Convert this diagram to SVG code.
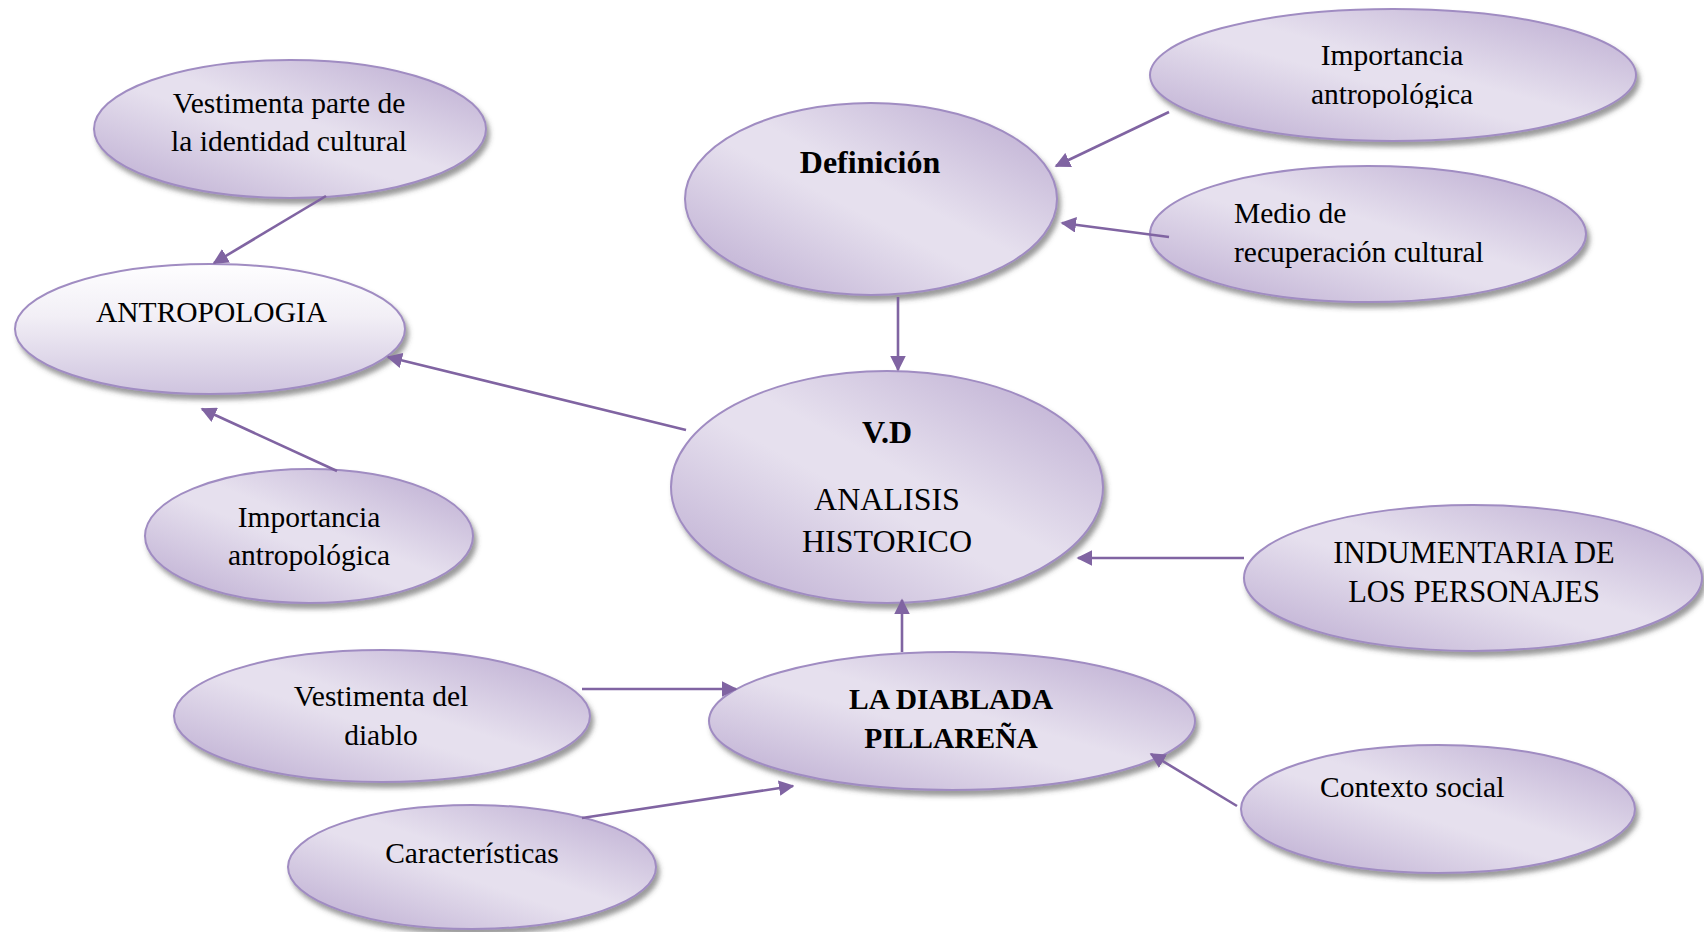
<svg xmlns="http://www.w3.org/2000/svg" width="1704" height="932" viewBox="0 0 1704 932">
<defs>
<linearGradient id="g" x1="0" y1="1" x2="1" y2="0">
<stop offset="0" stop-color="#b9a8cf"/>
<stop offset="0.45" stop-color="#e6e0ee"/>
<stop offset="0.55" stop-color="#e6e0ee"/>
<stop offset="1" stop-color="#b9a8cf"/>
</linearGradient>
<linearGradient id="gv" x1="0" y1="0" x2="0" y2="1">
<stop offset="0" stop-color="#fefeff"/>
<stop offset="0.4" stop-color="#f2eff6"/>
<stop offset="1" stop-color="#cfc4df"/>
</linearGradient>
<filter id="sh" x="-10%" y="-10%" width="125%" height="135%">
<feDropShadow dx="3" dy="5" stdDeviation="2.5" flood-color="#4a4a4a" flood-opacity="0.55"/>
</filter>
<marker id="ah" viewBox="0 0 10 10" refX="9" refY="5" markerWidth="6" markerHeight="6" orient="auto" markerUnits="strokeWidth">
<path d="M0,0 L10,5 L0,10 z" fill="#8064a2"/>
</marker>
<clipPath id="clipTR"><rect x="1150" y="0" width="500" height="108"/></clipPath>
</defs>
<style>
.n{fill:url(#g);stroke:#a08cc2;stroke-width:2;filter:url(#sh)}
.nv{fill:url(#gv);stroke:#a08cc2;stroke-width:2;filter:url(#sh)}
text{font-family:"Liberation Serif","Times New Roman",serif;font-size:29.5px;fill:#000}
.c{text-anchor:middle}
.b{font-weight:bold}
.L{font-size:32px}
.M{font-size:30.5px}
.e{stroke:#8064a2;stroke-width:2.6;fill:none;marker-end:url(#ah)}
</style>
<rect width="1704" height="932" fill="#fff"/>

<g id="n-vestimenta-identidad">
<ellipse class="n" cx="290" cy="129" rx="196" ry="69"/>
<text class="c" x="289" y="113">Vestimenta parte de</text>
<text class="c" x="289" y="151">la identidad cultural</text>
</g>
<g id="n-antropologia">
<ellipse class="nv" cx="210" cy="329" rx="195" ry="65"/>
<text x="96" y="322">ANTROPOLOGIA</text>
</g>
<g id="n-definicion">
<ellipse class="n" cx="871" cy="199" rx="186" ry="96"/>
<text class="c b L" x="870" y="173">Definición</text>
</g>
<g id="n-importancia-top">
<ellipse class="n" cx="1393" cy="75" rx="243" ry="66"/>
<g clip-path="url(#clipTR)">
<text class="c" x="1392" y="65">Importancia</text>
<text class="c" x="1392" y="104">antropológica</text>
</g>
</g>
<g id="n-medio">
<ellipse class="n" cx="1368" cy="234" rx="218" ry="68"/>
<text x="1234" y="223">Medio de</text>
<text x="1234" y="262">recuperación cultural</text>
</g>
<g id="n-vd">
<ellipse class="n" cx="887" cy="487" rx="216" ry="116"/>
<text class="c b L" x="887" y="443">V.D</text>
<text class="c L" x="887" y="510">ANALISIS</text>
<text class="c L" x="887" y="552">HISTORICO</text>
</g>
<g id="n-importancia-left">
<ellipse class="n" cx="309" cy="536" rx="164" ry="67"/>
<text class="c" x="309" y="527">Importancia</text>
<text class="c" x="309" y="565">antropológica</text>
</g>
<g id="n-indumentaria">
<ellipse class="n" cx="1473" cy="578" rx="229" ry="73"/>
<text class="c M" x="1474" y="563">INDUMENTARIA DE</text>
<text class="c M" x="1474" y="602">LOS PERSONAJES</text>
</g>
<g id="n-vestimenta-diablo">
<ellipse class="n" cx="382" cy="716" rx="208" ry="66"/>
<text class="c" x="381" y="706">Vestimenta del</text>
<text class="c" x="381" y="745">diablo</text>
</g>
<g id="n-diablada">
<ellipse class="n" cx="952" cy="721" rx="243" ry="69"/>
<text class="c b" x="951" y="709">LA DIABLADA</text>
<text class="c b" x="951" y="748">PILLAREÑA</text>
</g>
<g id="n-caracteristicas">
<ellipse class="n" cx="472" cy="867" rx="184" ry="62"/>
<text class="c" x="472" y="863">Características</text>
</g>
<g id="n-contexto">
<ellipse class="n" cx="1438" cy="809" rx="197" ry="64"/>
<text x="1320" y="797">Contexto social</text>
</g>

<g id="connectors">
<line class="e" x1="326" y1="196" x2="214" y2="263"/>
<line class="e" x1="686" y1="430" x2="388" y2="357"/>
<line class="e" x1="337" y1="471" x2="202" y2="409"/>
<line class="e" x1="1169" y1="112" x2="1056" y2="166"/>
<line class="e" x1="1169" y1="237" x2="1062" y2="223"/>
<line class="e" x1="898" y1="297" x2="898" y2="370"/>
<line class="e" x1="1244" y1="558" x2="1078" y2="558"/>
<line class="e" x1="902" y1="652" x2="902" y2="600"/>
<line class="e" x1="582" y1="689" x2="736" y2="689"/>
<line class="e" x1="582" y1="818" x2="793" y2="786"/>
<line class="e" x1="1237" y1="806" x2="1151" y2="754"/>
</g>
</svg>
